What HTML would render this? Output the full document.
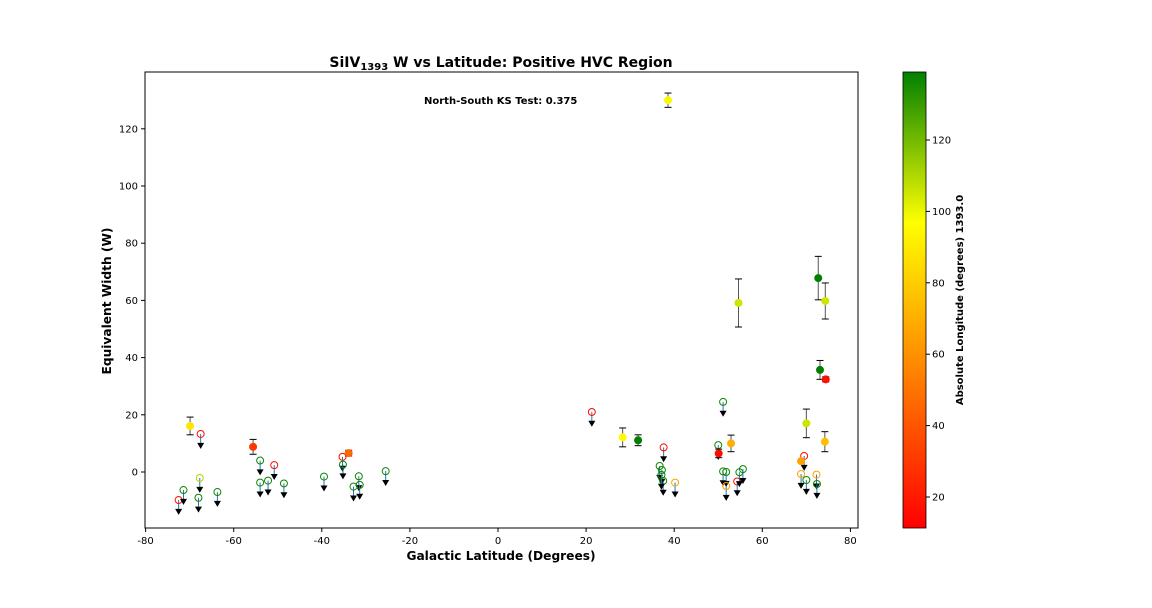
<!DOCTYPE html>
<html><head><meta charset="utf-8"><style>
body{margin:0;background:#fff;font-family:"DejaVu Sans",sans-serif}
svg text{font-family:"DejaVu Sans","Liberation Sans",sans-serif}
</style></head><body>
<svg id="c" width="1152" height="604" xmlns="http://www.w3.org/2000/svg">
<defs><linearGradient id="cg" x1="0" y1="1" x2="0" y2="0">
<stop offset="0" stop-color="#ff0000"/><stop offset="0.67" stop-color="#ffff00"/><stop offset="1" stop-color="#008000"/>
</linearGradient></defs>
<text x="501" y="67" text-anchor="middle" font-size="14" font-weight="bold">SiIV<tspan font-size="10" dy="3">1393</tspan><tspan dy="-3"> W vs Latitude: Positive HVC Region</tspan></text>
<rect x="145" y="72" width="713" height="456" fill="none" stroke="#000" stroke-width="1"/>
<text x="424" y="104" font-size="10" font-weight="bold">North-South KS Test: 0.375</text>
<text x="501" y="560" text-anchor="middle" font-size="12.2" font-weight="bold">Galactic Latitude (Degrees)</text>
<text transform="translate(111,301) rotate(-90)" text-anchor="middle" font-size="12.2" font-weight="bold">Equivalent Width (W)</text>
<rect x="903" y="72" width="23" height="456" fill="url(#cg)" stroke="#000" stroke-width="0.8"/>
<text transform="translate(963,300) rotate(-90)" text-anchor="middle" font-size="10" font-weight="bold">Absolute Longitude (degrees) 1393.0</text>
<g id="ax"></g><g id="marks"></g>
</svg>
<script>
const xTicks=[-80,-60,-40,-20,0,20,40,60,80];
const yTicks=[0,20,40,60,80,100,120];
const cTicks=[20,40,60,80,100,120];
// detections
const detLat=[-69.9,-55.6,-33.9,38.6,28.3,31.8,50.1,52.9,54.6,70.0,74.2,72.7,74.3,73.1,74.4,68.8];
const detW=[16.1,8.8,6.6,130,12.1,11.1,6.5,10.0,59.1,17.0,10.6,67.8,59.8,35.7,32.4,3.8];
const detErr=[3.1,2.6,1.0,2.5,3.3,1.9,1.5,2.9,8.4,5.0,3.5,7.6,6.3,3.3,0.9,0];
const detLon=[88,30,45,98,95,139,15,70,105,105,75,139,105,139,15,65];
// upper limits
const ulLat=[-72.5,-71.4,-67.7,-68.0,-63.7,-67.5,-54.0,-50.8,-54.0,-52.2,-48.6,-35.3,-35.2,-39.5,-31.6,-32.8,-31.4,-25.5,21.3,37.6,36.7,37.2,37.5,37.1,40.2,51.1,50.0,51.1,51.8,51.8,54.3,54.8,55.6,68.8,69.5,70.0,72.3,72.4];
const ulW=[-9.8,-6.3,-2.1,-9.0,-7.0,13.3,4.0,2.4,-3.7,-3.0,-4.0,5.3,2.6,-1.6,-1.5,-5.1,-4.5,0.3,21.0,8.6,2.1,0.7,-3.1,-1.0,-3.7,24.5,9.4,0.2,0,-4.9,-3.3,-0.1,1.0,-0.7,5.6,-2.8,-0.9,-4.2];
const ulLon=[15,137,110,137,137,15,137,15,137,137,137,15,137,137,137,137,137,137,15,15,137,137,137,137,65,137,137,137,137,65,15,137,137,65,15,137,65,137];
const X=v=>498+v*4.405, Y=v=>472-v*2.86, CY=v=>497-(v-20)*3.57;
function col(v){let t=(v-11)/128;t=Math.max(0,Math.min(1,t));let r,g,b=0;
 if(t<0.67){r=255;g=Math.round(255*t/0.67);}else{const s=(t-0.67)/0.33;r=Math.round(255*(1-s));g=Math.round(255-127*s);}
 return `rgb(${r},${g},${b})`;}
const NS='http://www.w3.org/2000/svg';
function mk(p,tag,a){const e=document.createElementNS(NS,tag);for(const k in a)e.setAttribute(k,a[k]);p.appendChild(e);return e;}
const ax=document.getElementById('ax'),mg=document.getElementById('marks');
xTicks.forEach(v=>{const x=X(v);mk(ax,'line',{x1:x,x2:x,y1:528,y2:532,stroke:'#000'});
 const t=mk(ax,'text',{x:x,y:544,'text-anchor':'middle','font-size':10});t.textContent=v;
 
 });
yTicks.forEach(v=>{const y=Y(v);mk(ax,'line',{x1:141,x2:145,y1:y,y2:y,stroke:'#000'});
 const t=mk(ax,'text',{x:138,y:y+3.5,'text-anchor':'end','font-size':10});t.textContent=v;
 
 });
cTicks.forEach(v=>{const y=CY(v);mk(ax,'line',{x1:926,x2:930,y1:y,y2:y,stroke:'#000'});
 const t=mk(ax,'text',{x:932,y:y+3.5,'font-size':10});t.textContent=v;
 
 });
ulLat.forEach((lat,i)=>{const x=X(lat),y=Y(ulW[i]),ya=Y(ulW[i]-3.8);
 const g=mk(mg,'g',{});
 
 
 mk(g,'line',{x1:x,x2:x,y1:y,y2:ya,stroke:'#1f77b4','stroke-width':1});
 mk(g,'path',{d:`M${x-3.5},${ya-2}L${x+3.5},${ya-2}L${x},${ya+4}Z`,fill:'#000'});
 mk(g,'circle',{cx:x,cy:y,r:3.5,fill:'none',stroke:col(ulLon[i]),'stroke-width':1});});
detLat.forEach((lat,i)=>{const x=X(lat),y=Y(detW[i]);
 const g=mk(mg,'g',{});
 
 
 if(detErr[i]>0){const y1=Y(detW[i]+detErr[i]),y2=Y(detW[i]-detErr[i]);
  mk(g,'line',{x1:x,x2:x,y1:y1,y2:y2,stroke:'#555','stroke-width':1});
  mk(g,'line',{x1:x-3.5,x2:x+3.5,y1:y1,y2:y1,stroke:'#000','stroke-width':1});
  mk(g,'line',{x1:x-3.5,x2:x+3.5,y1:y2,y2:y2,stroke:'#000','stroke-width':1});}
 mk(g,'circle',{cx:x,cy:y,r:4,fill:col(detLon[i])});});
</script>
</body></html>
